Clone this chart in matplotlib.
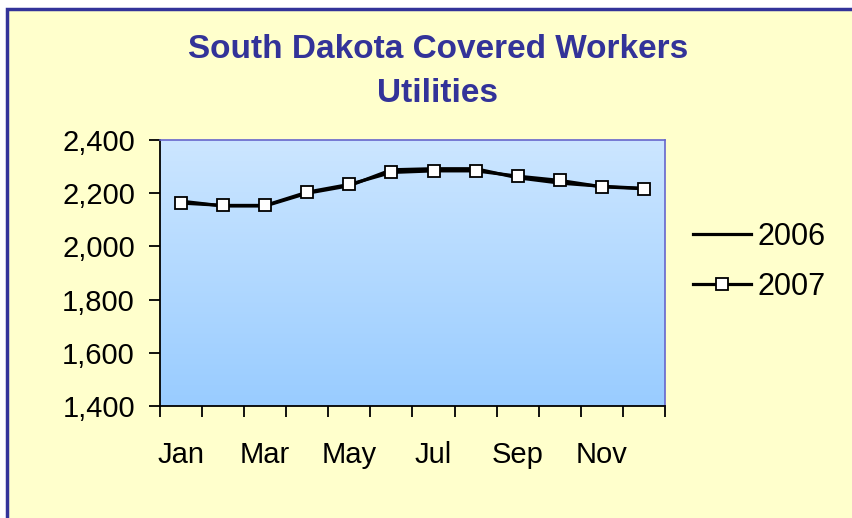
'''South Dakota covered workers, utilities, 2006 vs 2007'''
import numpy as np
import matplotlib.pyplot as plt
from matplotlib.patches import Rectangle
from matplotlib.colors import LinearSegmentedColormap
from matplotlib.ticker import FuncFormatter

months = ['Jan', 'Feb', 'Mar', 'Apr', 'May', 'Jun',
          'Jul', 'Aug', 'Sep', 'Oct', 'Nov', 'Dec']
workers_2006 = [2170, 2152, 2152, 2200, 2228, 2288, 2292, 2292, 2258, 2238, 2226, 2218]
workers_2007 = [2163, 2154, 2154, 2204, 2233, 2278, 2284, 2284, 2264, 2248, 2224, 2217]
y_ticks = [1400, 1600, 1800, 2000, 2200, 2400]

plt.rcParams['font.family'] = ['Liberation Sans', 'DejaVu Sans']

W, H = 853, 518
fig = plt.figure(figsize=(W / 100, H / 100), dpi=100, facecolor='white')

# yellow panel with blue border (cut off on the right and bottom)
fig.patches.append(Rectangle((7 / W, -0.1), 1.2, 1 - 9 / H + 0.1,
                             transform=fig.transFigure, facecolor='#FFFFCC',
                             edgecolor='#333399', linewidth=2.5, zorder=-5))

ax = fig.add_axes([160 / W, 1 - 406 / H, 505 / W, 266 / H])
ax.set_zorder(2)
x = np.arange(len(months))

# plot area gradient
grad = LinearSegmentedColormap.from_list('bg', ['#99CCFF', '#CCE6FF'])
ax.imshow(np.linspace(0, 1, 256).reshape(-1, 1), cmap=grad, origin='lower',
          extent=[-0.5, 11.5, 1400, 2400], aspect='auto', zorder=0)

ax.plot(x, workers_2006, color='black', linewidth=2.3, label='2006', zorder=2)
ax.plot(x, workers_2007, color='black', linewidth=2.3, marker='s',
        markersize=8.5, markerfacecolor='white', markeredgecolor='black',
        markeredgewidth=1.3, label='2007', zorder=3)

ax.set_xlim(-0.5, 11.5)
ax.set_ylim(1400, 2400)
ax.set_yticks(y_ticks)
ax.yaxis.set_major_formatter(FuncFormatter(lambda v, _: f'{int(v):,}'))
ax.set_xticks(x[::2])
ax.set_xticklabels(months[::2])
ax.set_xticks(np.arange(-0.5, 12, 1), minor=True)
ax.tick_params(axis='x', which='major', length=0, pad=25, labelsize=21)
ax.tick_params(axis='x', which='minor', length=8, width=1.3, color='black')
ax.tick_params(axis='y', length=8, width=1.3, labelsize=21, pad=10)

for side in ['top', 'right']:
    ax.spines[side].set_color('#6666CC')
    ax.spines[side].set_linewidth(1.2)
for side in ['left', 'bottom']:
    ax.spines[side].set_color('black')
    ax.spines[side].set_linewidth(1.3)

fig.text(438 / W, 1 - 49 / H, 'South Dakota Covered Workers',
         ha='center', va='center', fontsize=24, fontweight='bold', color='#333399')
fig.text(438 / W, 1 - 93 / H, 'Utilities',
         ha='center', va='center', fontsize=24, fontweight='bold', color='#333399')

fig.legend(loc='center left', bbox_to_anchor=(693 / W, 1 - 262 / H), frameon=False,
           borderpad=0, borderaxespad=0, fontsize=22, handlelength=1.9,
           handletextpad=0.2, labelspacing=0.65)

plt.savefig('out.png', dpi=100)
plt.close(fig)
